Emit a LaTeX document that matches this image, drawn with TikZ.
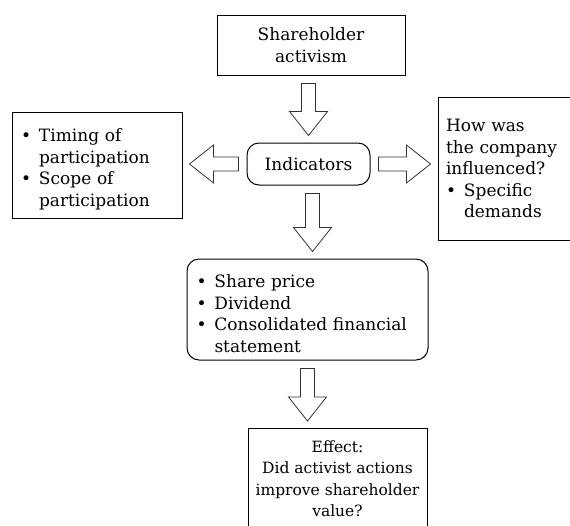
\documentclass[tikz,border=0pt]{standalone}
\usepackage{fontspec}
\setmainfont{DejaVu Serif}
\usetikzlibrary{calc,positioning}

% Aufzaehlungspunkt mit haengendem Einzug
\newcommand{\bul}{\par\noindent\hangindent=18pt\hangafter=1\makebox[18pt][l]{\textbullet}}

\begin{document}
\begin{tikzpicture}[
        x=1pt, y=-1pt,
        box/.style={
            draw=black,
            line width=1pt,
            inner sep=0pt,
            font=\fontsize{17}{21.5}\selectfont
        },
        roundbox/.style={box, rounded corners=12pt},
        fat/.style={
            draw=black!80,
            line width=0.8pt,
            to path={
                let \p1=(\tikztostart), \p2=(\tikztotarget),
                    \n1={veclen(\x2-\x1,\y2-\y1)},
                    \n2={(\x2-\x1)/\n1}, \n3={(\y2-\y1)/\n1}
                in
                ({\x1+8*\n2-7*\n3},{\y1+8*\n3+7*\n2})
                -- ({\x2-31*\n2-7*\n3},{\y2-31*\n3+7*\n2})
                -- ({\x2-31*\n2-19*\n3},{\y2-31*\n3+19*\n2})
                -- ({\x2-7*\n2},{\y2-7*\n3})
                -- ({\x2-31*\n2+19*\n3},{\y2-31*\n3-19*\n2})
                -- ({\x2-31*\n2+7*\n3},{\y2-31*\n3-7*\n2})
                -- ({\x1+8*\n2+7*\n3},{\y1+8*\n3-7*\n2})
                -- cycle
            }
        }
    ]

    \useasboundingbox (0,0) rectangle (570,525);

    % Kaesten
    \node[box, minimum width=188pt, minimum height=60pt, align=center]
        (act) at (311,45) {Shareholder\\activism};
    \node[roundbox, minimum width=123pt, minimum height=42pt]
        (ind) at (308.5,164) {Indicators};
    \node[box, minimum width=170pt, minimum height=106pt, text width=152pt, align=left]
        (timing) at (97,165) {\bul Timing of\newline participation\bul Scope of\newline participation\par};
    \node[box, minimum width=134pt, minimum height=143pt, text width=118pt, align=left]
        (infl) at (505,168.5) {How was\\the company\\influenced?\bul Specific\newline demands\par};
    \node[roundbox, minimum width=241pt, minimum height=101pt, text width=222pt, align=left]
        (fin) at (307.5,309.5) {\bul Share price\bul Dividend\bul Consolidated financial\newline statement\par};
    \node[box, anchor=north, minimum width=179pt, inner ysep=12pt, align=center,
          font=\fontsize{15.5}{21.5}\selectfont]
        (eff) at (337.5,428) {Effect:\\Did activist actions\\improve shareholder\\value?};

    \coordinate (m1) at ([xshift=4pt]ind.south);

    % Pfeile
    \draw[fat] (ind.north |- act.south) to (ind.north);
    \draw[fat] (ind.west) to (timing.east |- ind.west);
    \draw[fat] (ind.east) to (infl.west |- ind.east);
    \draw[fat] (m1) to (m1 |- fin.north);
    \draw[fat] (fin.south) to (fin.south |- eff.north);

\end{tikzpicture}
\end{document}
